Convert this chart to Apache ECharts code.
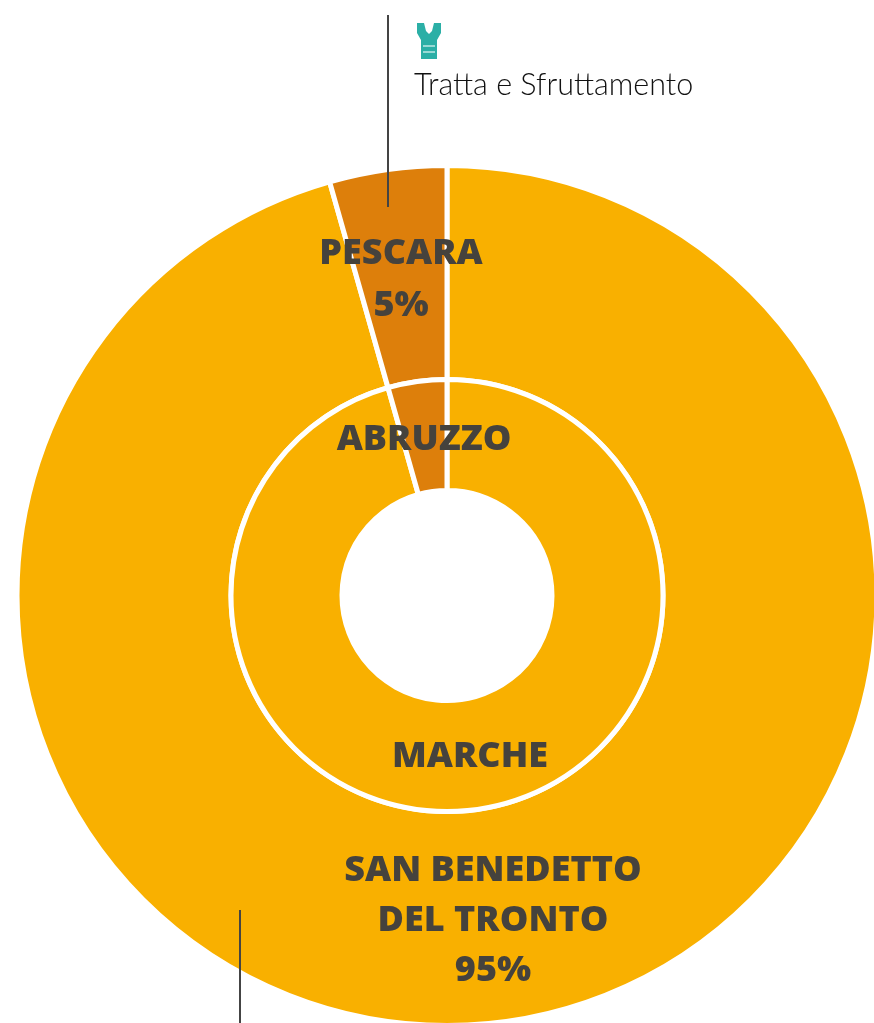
<!DOCTYPE html>
<html><head><meta charset="utf-8">
<style>html,body{margin:0;padding:0;background:#fff}#c{width:874px;height:1023px}</style>
<script src="https://cdn.jsdelivr.net/npm/echarts@6/dist/echarts.min.js"></script>
</head><body><div id="c"></div>
<script>
const title = 'Tratta e Sfruttamento';
const outerNames = ['SAN BENEDETTO\nDEL TRONTO\n95%', 'PESCARA\n5%'];
const outerValues = [95.6, 4.4];
const innerNames = ['MARCHE', 'ABRUZZO'];
const innerValues = [95.6, 4.4];
const colors = ['#F9B000', '#DD7F0B'];
const ink = '#45423D';
const chart = echarts.init(document.getElementById('c'));
const mk = (names, vals) => names.map((n, i) => ({name: n, value: vals[i], itemStyle: {color: colors[i]}}));
const base = {type: 'pie', center: [447, 595.5], startAngle: 90, clockwise: true, silent: true, animation: false,
  label: {show: false}, labelLine: {show: false}, itemStyle: {borderColor: '#fff', borderWidth: 5}};
const lbl = (x, y, text, lh) => ({type: 'text', x, y, z: 10, style: {text, fill: ink, font: '800 36px "Open Sans",sans-serif', align: 'center', verticalAlign: 'middle', lineHeight: lh}});
chart.setOption({
  backgroundColor: '#fff',
  series: [
    Object.assign({}, base, {radius: [216, 430], data: mk(outerNames, outerValues)}),
    Object.assign({}, base, {radius: [105, 216], data: mk(innerNames, innerValues)})
  ],
  graphic: [
    lbl(401, 280, outerNames[1], 52),
    lbl(424, 440, innerNames[1]),
    lbl(470, 757, innerNames[0]),
    lbl(493, 921, outerNames[0], 50),
    {type: 'line', z: 11, shape: {x1: 388, y1: 15, x2: 388, y2: 207}, style: {stroke: '#444', lineWidth: 2}},
    {type: 'line', z: 11, shape: {x1: 240, y1: 910, x2: 240, y2: 1023}, style: {stroke: '#444', lineWidth: 2}},
    {type: 'text', x: 414, y: 85, z: 10, style: {text: title, fill: '#111', font: '300 30.5px "Lato",sans-serif', align: 'left', verticalAlign: 'middle'}},
    {type: 'polygon', z: 10, shape: {points: [[417,23],[424,23],[426,31],[429,34],[432,31],[434,23],[441,23],[441,33],[437,40],[437,59],[421,59],[421,40],[417,33]]}, style: {fill: '#2BAFA6'}},
    {type: 'line', z: 11, shape: {x1: 423, y1: 46, x2: 435, y2: 46}, style: {stroke: '#BFE8E4', lineWidth: 1.5}},
    {type: 'line', z: 11, shape: {x1: 423, y1: 52, x2: 435, y2: 52}, style: {stroke: '#BFE8E4', lineWidth: 1.5}}
  ]
});
</script></body></html>
